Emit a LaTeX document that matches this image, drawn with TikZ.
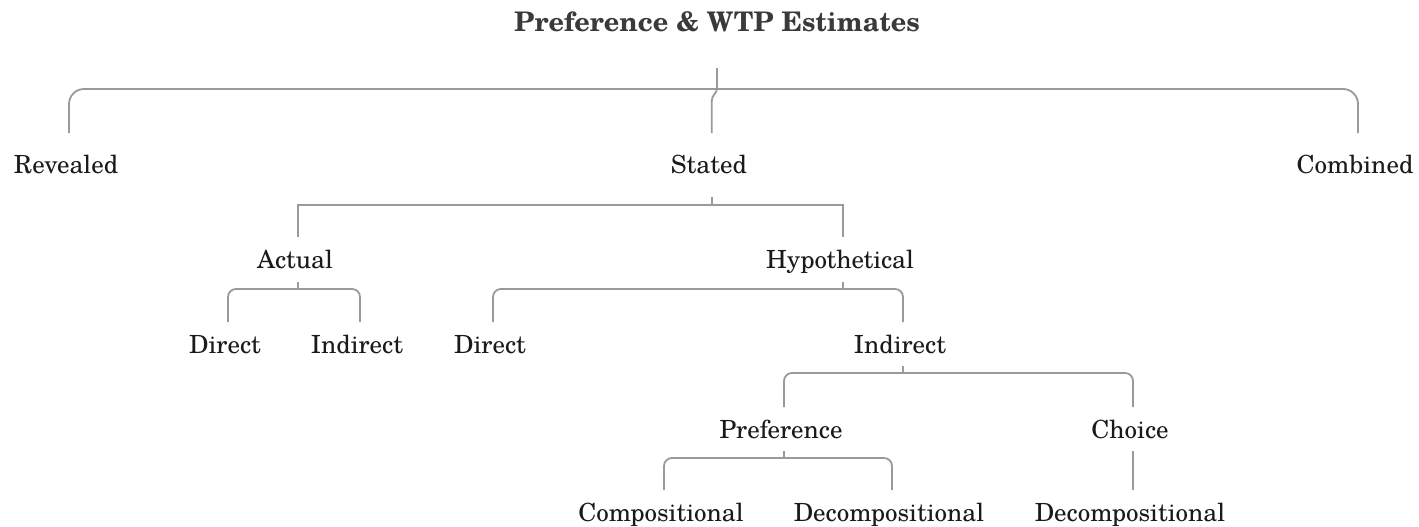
\documentclass[tikz,border=0pt]{standalone}
\usepackage{fontspec}
\setmainfont{TeX Gyre Schola}
\usetikzlibrary{calc}
\definecolor{ln}{HTML}{9A9A9A}
\definecolor{txt}{HTML}{1A1A1A}
\definecolor{ttl}{HTML}{3A3A3A}
\begin{document}
\begin{tikzpicture}[x=1pt,y=-1pt,
  lab/.style={anchor=base,inner sep=0pt,text=txt,font=\fontsize{25}{29}\selectfont},
  ttlstyle/.style={anchor=base,inner sep=0pt,text=ttl,font=\bfseries\fontsize{27}{32}\selectfont},
  conn/.style={draw=ln,line width=1.8pt}]
\useasboundingbox (0,0) rectangle (1419,527);
% nodes
\node[ttlstyle] (title) at (717,32) {Preference \& WTP Estimates};
\node[lab] (rev) at (66,173) {Revealed};
\node[lab] (sta) at (709,173) {Stated};
\node[lab] (com) at (1355,173) {Combined};
\node[lab] (act) at (295,268) {Actual};
\node[lab] (hyp) at (840,268) {Hypothetical};
\node[lab] (dA) at (225,353) {Direct};
\node[lab] (iA) at (357,353) {Indirect};
\node[lab] (dH) at (490,353) {Direct};
\node[lab] (iH) at (900,353) {Indirect};
\node[lab] (pre) at (781,438) {Preference};
\node[lab] (cho) at (1130,438) {Choice};
\node[lab] (cmp) at (661,521) {Compositional};
\node[lab] (dc1) at (889,521) {Decompositional};
\node[lab] (dc2) at (1130,521) {Decompositional};
% bar coordinates
\coordinate (b0) at ($(title.base)+(0,57)$);
\coordinate (b1) at ($(sta.base)+(2.7,32)$);
\coordinate (b2) at ($(act.base)+(3,21)$);
\coordinate (b3) at ($(hyp.base)+(3,21)$);
\coordinate (b4) at ($(iH.base)+(3,20)$);
\coordinate (b5) at ($(pre.base)+(3,20)$);
% top level
\draw[conn] (b0) -- ++(0,-21);
\draw[conn,rounded corners=15pt] ($(rev.base)+(3,-40)$) |- (b0) -| ($(com.base)+(3,-40)$);
\draw[conn] (b0) .. controls ($(b0)+(0,4)$) and ($(sta.base)+(2.7,-78)$) .. ($(sta.base)+(2.7,-72)$) -- ($(sta.base)+(2.7,-40)$);
% stated
\draw[conn] (b1) -- ++(0,-8);
\draw[conn] ($(act.base)+(3,-31)$) |- (b1) -| ($(hyp.base)+(3,-31)$);
% actual
\draw[conn] (b2) -- ++(0,-7);
\draw[conn,rounded corners=8pt] ($(dA.base)+(3,-31)$) |- (b2) -| ($(iA.base)+(3,-31)$);
% hypothetical
\draw[conn] (b3) -- ++(0,-7);
\draw[conn,rounded corners=8pt] ($(dH.base)+(3,-31)$) |- (b3) -| ($(iH.base)+(3,-31)$);
% indirect
\draw[conn] (b4) -- ++(0,-7);
\draw[conn,rounded corners=8pt] ($(pre.base)+(3,-31)$) |- (b4) -| ($(cho.base)+(3,-31)$);
% preference
\draw[conn] (b5) -- ++(0,-7);
\draw[conn,rounded corners=8pt] ($(cmp.base)+(3,-31)$) |- (b5) -| ($(dc1.base)+(3,-31)$);
% choice
\draw[conn] ($(cho.base)+(3,13)$) -- ($(dc2.base)+(3,-31)$);
\end{tikzpicture}
\end{document}
